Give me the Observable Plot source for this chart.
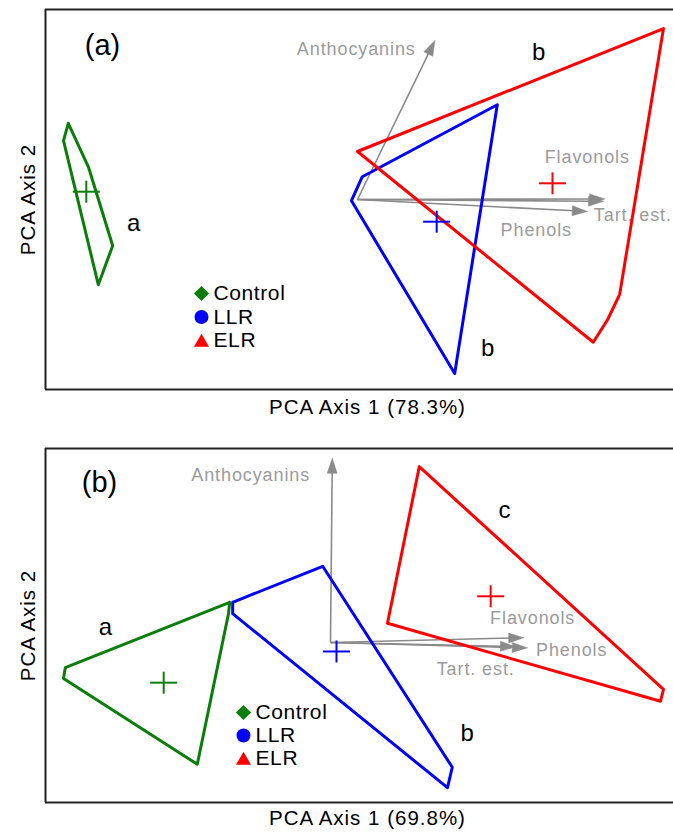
<!DOCTYPE html>
<html><head><meta charset="utf-8">
<script src="https://cdn.jsdelivr.net/npm/d3@7"></script>
<script src="https://cdn.jsdelivr.net/npm/@observablehq/plot@0.6"></script>
<style>
body{margin:0;background:#fff;}
#chart{width:673px;}
#chart svg{display:block;overflow:visible;}
g[font-size="18"] text{letter-spacing:0.9px;}
g[font-size="21"] text{letter-spacing:0.6px;}
g[font-size="20.5"] text{letter-spacing:1px;}
</style>
</head><body><div id="chart"></div>
<script>
// ---------- data ----------
const groups = ["Control", "LLR", "ELR"];
const groupColors = ["#0a7d0a", "#0000ff", "#ff0000"];
const variables = ["Anthocyanins", "Flavonols", "Phenols", "Tart. est."];

// Panel (a): PCA axis 1 (78.3%)
const a_title = "(a)";
const a_xLabel = "PCA Axis 1 (78.3%)";
const a_xDomain = [-5.2, 5.267];
const a_yDomain = [-3.167, 3.167];
const a_hullControl = [[-4.82, 1.27], [-4.48, 0.53], [-4.08, -0.77], [-4.32, -1.42], [-4.90, 0.98]];
const a_hullLLR = [[2.33, 1.58], [1.62, -2.90], [-0.10, -0.02], [0.08, 0.38]];
const a_hullELR = [[0.0, 0.80], [5.10, 2.85], [4.37, -1.58], [4.17, -2.00], [3.93, -2.38]];
const a_centroidX = [-4.52, 1.32, 3.25];
const a_centroidY = [0.13, -0.37, 0.27];
const a_loadX = [1.29, 4.12, 4.10, 3.83];
const a_loadY = [2.65, 0.01, -0.03, -0.20];
const a_varLabelX = [-0.02, 3.83, 2.98, 4.59];
const a_varLabelY = [2.50, 0.70, -0.52, -0.27];
const a_letters = ["a", "b", "b"];
const a_letterX = [-3.73, 2.17, 3.02];
const a_letterY = [-0.40, -2.48, 2.45];

// Panel (b): PCA axis 1 (69.8%)
const b_title = "(b)";
const b_xLabel = "PCA Axis 1 (69.8%)";
const b_xDomain = [-4.75, 5.717];
const b_yDomain = [-2.667, 3.233];
const b_hullControl = [[-1.68, 0.67], [-1.70, 0.48], [-2.22, -2.03], [-4.45, -0.60], [-4.42, -0.42]];
const b_hullLLR = [[-1.63, 0.67], [-0.13, 1.27], [2.03, -2.08], [1.95, -2.42], [-1.63, 0.48]];
const b_hullELR = [[1.48, 2.93], [5.55, -0.78], [5.50, -0.98], [0.95, 0.32]];
const b_centroidX = [-2.78, 0.10, 2.67];
const b_centroidY = [-0.67, -0.15, 0.77];
const b_loadX = [0.03, 3.22, 3.28, 3.08];
const b_loadY = [3.07, 0.08, -0.09, -0.07];
const b_varLabelX = [-1.33, 3.37, 4.02, 2.42];
const b_varLabelY = [2.78, 0.40, -0.13, -0.45];
const b_letters = ["a", "b", "c"];
const b_letterX = [-3.75, 2.28, 2.90];
const b_letterY = [0.25, -1.52, 2.20];

const yLabel = "PCA Axis 2";

// ---------- layout / style ----------
const FONT = "'Liberation Sans', Arial, Helvetica, sans-serif";
const W = 673;
const PPU = 60; // pixels per PCA unit (both axes)
const ARROW = "#8a8a8a", ARROW_TEXT = "#9b9b9b";
const symbols = ["diamond2", "circle", "triangle"];
const symbolR = [6.8, 7, 5.6];
const symbolShift = [0, 0, 2];

function makePanel(p) {
  const hullRows = [];
  p.hulls.forEach((pts, i) => {
    pts.concat([pts[0]]).forEach(([x, y]) => hullRows.push({group: groups[i], x, y}));
  });
  const cents = groups.map((g, i) => ({group: g, x: p.cx[i], y: p.cy[i]}));
  const hx = 13.5 / PPU, hy = 11 / PPU;
  const headL = 15 / PPU, headW = 5 / PPU;
  const shafts = [], heads = [];
  variables.forEach((v, i) => {
    const tx = p.lx[i], ty = p.ly[i];
    const len = Math.hypot(tx, ty), ux = tx / len, uy = ty / len;
    const bx = tx - ux * headL, by = ty - uy * headL;
    shafts.push({v, x1: 0, y1: 0, x2: bx + ux * 2 / PPU, y2: by + uy * 2 / PPU});
    heads.push({v, x: tx, y: ty}, {v, x: bx - uy * headW, y: by + ux * headW}, {v, x: bx + uy * headW, y: by - ux * headW}, {v, x: tx, y: ty});
  });
  const labels = variables.map((v, i) => ({v, x: p.tx[i], y: p.ty[i]}));
  const letters = p.letters.map((t, i) => ({t, x: p.letX[i], y: p.letY[i]}));

  const legend = [];
  groups.forEach((g, i) => {
    legend.push(Plot.dot([g], {frameAnchor: "top-left", dx: p.legDx, dy: p.legDy + i * p.legGap + symbolShift[i],
      symbol: symbols[i], r: symbolR[i], fill: groupColors[i], stroke: "none"}));
    legend.push(Plot.text([g], {frameAnchor: "top-left", dx: p.legDx + 12, dy: p.legDy + i * p.legGap,
      text: d => d, textAnchor: "start", lineAnchor: "middle", fontSize: 21, fill: "#000"}));
  });

  return Plot.plot({
    width: W, height: p.height,
    marginTop: p.mt, marginBottom: p.mb, marginLeft: 45, marginRight: 0,
    style: {fontFamily: FONT, background: "transparent", overflow: "visible"},
    x: {domain: p.xDomain, axis: null},
    y: {domain: p.yDomain, axis: null},
    color: {domain: groups, range: groupColors},
    marks: [
      Plot.ruleY([p.yDomain[0], p.yDomain[1]], {stroke: "#222", strokeWidth: 2}),
      Plot.ruleX([p.xDomain[0]], {stroke: "#222", strokeWidth: 2}),
      Plot.link(shafts, {x1: "x1", y1: "y1", x2: "x2", y2: "y2", stroke: ARROW, strokeWidth: 1.6}),
      Plot.line(heads, {x: "x", y: "y", z: "v", fill: ARROW, stroke: ARROW, strokeWidth: 0.5}),
      Plot.text(labels, {x: "x", y: "y", text: "v", fill: ARROW_TEXT, fontSize: 18}),
      Plot.line(hullRows, {x: "x", y: "y", z: "group", stroke: "group", strokeWidth: 3, strokeLinejoin: "round"}),
      Plot.link(cents, {x1: d => d.x - hx, x2: d => d.x + hx, y1: "y", y2: "y", stroke: "group", strokeWidth: 2}),
      Plot.link(cents, {x1: "x", x2: "x", y1: d => d.y - hy, y2: d => d.y + hy, stroke: "group", strokeWidth: 2}),
      Plot.text(letters, {x: "x", y: "y", text: "t", fontSize: 24, fill: "#000"}),
      Plot.text([p.title], {frameAnchor: "top-left", dx: p.titleDx, dy: p.titleDy, text: d => d,
        textAnchor: "middle", lineAnchor: "middle", fontSize: 29, fill: "#000"}),
      Plot.text([p.xLabel], {frameAnchor: "bottom", dx: 8, dy: p.xLabDy, text: d => d,
        textAnchor: "middle", lineAnchor: "middle", fontSize: 20.5, fill: "#000"}),
      Plot.text([yLabel], {frameAnchor: "left", dx: -17, rotate: -90, text: d => d,
        textAnchor: "middle", lineAnchor: "middle", fontSize: 20.5, fill: "#000"}),
      ...legend
    ]
  });
}

const chart = document.getElementById("chart");
chart.append(makePanel({
  height: 430, mt: 9, mb: 41,
  xDomain: a_xDomain, yDomain: a_yDomain,
  hulls: [a_hullControl, a_hullLLR, a_hullELR],
  cx: a_centroidX, cy: a_centroidY,
  lx: a_loadX, ly: a_loadY, tx: a_varLabelX, ty: a_varLabelY,
  letters: a_letters, letX: a_letterX, letY: a_letterY,
  title: a_title, titleDx: 57, titleDy: 36,
  xLabel: a_xLabel, xLabDy: 18,
  legDx: 156, legDy: 284, legGap: 23.5
}));
chart.append(makePanel({
  height: 402, mt: 18, mb: 30,
  xDomain: b_xDomain, yDomain: b_yDomain,
  hulls: [b_hullControl, b_hullLLR, b_hullELR],
  cx: b_centroidX, cy: b_centroidY,
  lx: b_loadX, ly: b_loadY, tx: b_varLabelX, ty: b_varLabelY,
  letters: b_letters, letX: b_letterX, letY: b_letterY,
  title: b_title, titleDx: 54, titleDy: 34,
  xLabel: b_xLabel, xLabDy: 16,
  legDx: 198, legDy: 264, legGap: 23
}));
</script>
</body></html>
